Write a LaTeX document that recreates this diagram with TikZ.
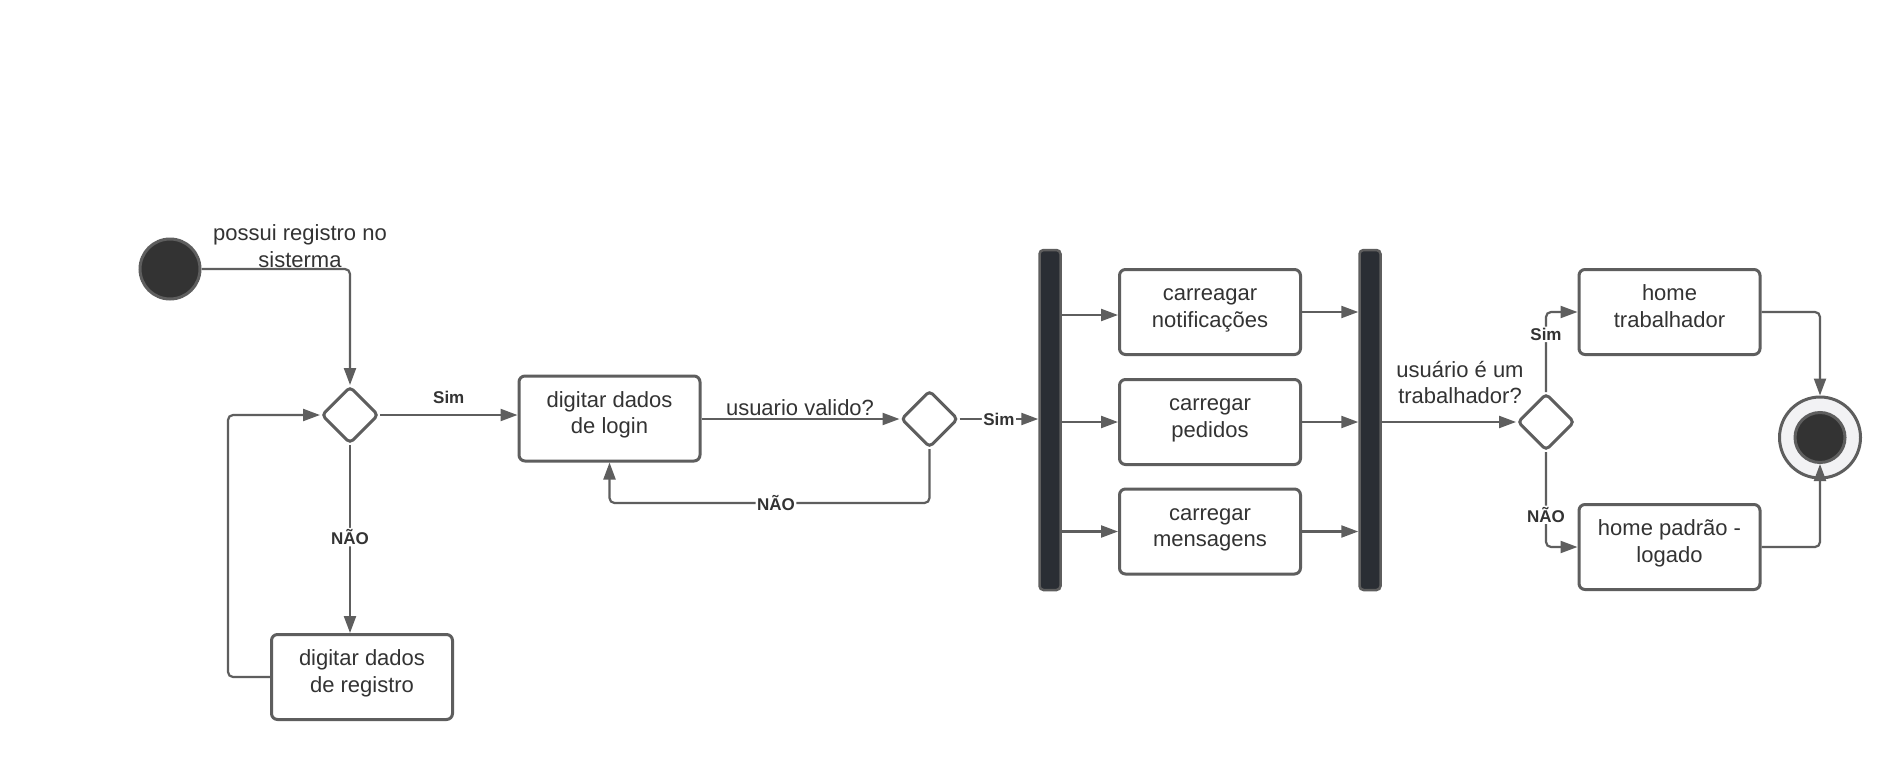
\documentclass[tikz,border=0pt]{standalone}
\usepackage{fontspec}
\setmainfont{Liberation Sans}
\usetikzlibrary{arrows.meta,shapes.geometric,calc}
\definecolor{linegray}{HTML}{5E5E5E}
\definecolor{txtgray}{HTML}{333333}
\definecolor{barfill}{HTML}{2A2E34}
\definecolor{dotfill}{HTML}{333333}
\definecolor{ringfill}{HTML}{F2F2F4}

\begin{document}
\begin{tikzpicture}[x=1pt,y=-1pt,
  every node/.style={text=txtgray},
  action/.style={draw=linegray, line width=3pt, rounded corners=6pt,
    minimum width=181pt, minimum height=85pt, align=center,
    font=\fontsize{22}{26.5}\selectfont, inner sep=0pt,
    text height=30pt, text depth=0pt},
  choice/.style={diamond, draw=linegray, line width=3pt, rounded corners=4pt,
    minimum width=57pt, minimum height=57pt, inner sep=0pt, aspect=1},
  forkbar/.style={draw=linegray, fill=barfill, line width=2.5pt, rounded corners=4pt,
    minimum width=21pt, minimum height=340pt, inner sep=0pt},
  flow/.style={draw=linegray, line width=2.2pt,
    -{Triangle[length=17pt,width=12pt]}, rounded corners=5pt},
  guard/.style={font=\bfseries\fontsize{17}{20}\selectfont, fill=white, inner sep=1.5pt},
  note/.style={font=\fontsize{22}{26.5}\selectfont, align=center, inner sep=0pt},
]
% canvas
\fill[white] (0,0) rectangle (1900,760);

% start and first decision
\node[circle, draw=linegray, fill=dotfill, line width=3pt, minimum size=60pt, inner sep=0pt] (start) at (170,269) {};
\node[note, anchor=base] (q1) at (300,267) {possui registro no\\sisterma};
\node[choice] (d1) at (350,415) {};
\node[action] (login) at (609.5,418.5) {digitar dados\\de login};
\node[action] (reg) at (362,677) {digitar dados\\de registro};

% login validation
\node[choice] (d2) at (929.5,419) {};
\node[note, anchor=base] (q2) at (800,415) {usuario valido?};

% fork / parallel loading / join
\node[forkbar] (fork) at (1050,420) {};
\node[action] (notif) at (1210,312) {carreagar\\notificações};
\node[action] (ped) at (1210,422) {carregar\\pedidos};
\node[action] (msg) at (1210,531.5) {carregar\\mensagens};
\node[forkbar] (join) at (1370,420) {};

% role decision and homes
\node[choice] (d3) at (1546,422) {};
\node[note, anchor=base] (q3) at (1460,403.5) {usuário é um\\trabalhador?};
\node[action] (ht) at (1669.5,312) {home\\trabalhador};
\node[action] (hp) at (1669.5,547) {home padrão -\\logado};

% final state
\node[circle, draw=linegray, fill=ringfill, line width=3pt, minimum size=81pt, inner sep=0pt] (endo) at (1820,437.5) {};
\node[circle, draw=linegray, fill=dotfill, line width=3pt, minimum size=50pt, inner sep=0pt] (endi) at (1820,437.5) {};

% connectors
\draw[flow] (start) -| (d1.north);
\draw[flow] (d1.east) -- node[guard, fill=none, above=9pt] (s1) {Sim} (d1.east -| login.west);
\draw[flow] (d1.south) -- node[guard, pos=0.49] (n1) {NÃO} (d1.south |- reg.north);
\draw[flow] (reg.west) -- ++(-42,0) |- (d1.west);

\draw[flow] (login.east |- d2.west) -- (d2.west);
\draw[flow] (d2.east) -- node[guard] (s2) {Sim} (d2.east -| fork.west);
\draw[flow] (d2.south) -- ++(0,54) -| node[guard, pos=0.24] (n2) {NÃO} (login.south);

\draw[flow] ([yshift=-3pt]notif.west -| fork.east) -- ([yshift=-3pt]notif.west);
\draw[flow] (ped.west -| fork.east) -- (ped.west);
\draw[flow] (msg.west -| fork.east) -- (msg.west);
\draw[flow] (notif.east) -- (notif.east -| join.west);
\draw[flow] (ped.east) -- (ped.east -| join.west);
\draw[flow] (msg.east) -- (msg.east -| join.west);

\draw[flow] (join.east |- d3.west) -- (d3.west);
\draw[flow] (d3.north) |- node[guard, pos=0.36] (s3) {Sim} (ht.west);
\draw[flow] (d3.south) |- node[guard, pos=0.33] (n3) {NÃO} (hp.west);
\draw[flow] (ht.east) -| (endo.north);
\draw[flow] (hp.east) -| (endi.south);
\end{tikzpicture}
\end{document}
